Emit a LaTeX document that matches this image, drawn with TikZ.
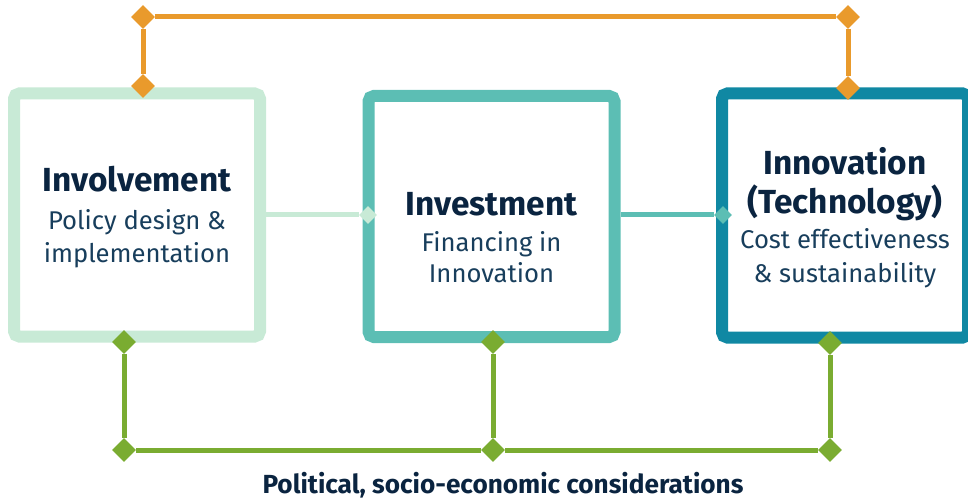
\documentclass[tikz,border=0pt]{standalone}
\usepackage{fontspec}
\setmainfont{Fira Sans}
\usetikzlibrary{positioning,shapes.geometric,calc}
\definecolor{mintcol}{RGB}{200,234,214}
\definecolor{tealcol}{RGB}{92,190,180}
\definecolor{petrolcol}{RGB}{16,136,163}
\definecolor{linkorange}{RGB}{233,154,44}
\definecolor{linkgreen}{RGB}{122,172,49}
\definecolor{headcol}{RGB}{10,36,64}
\definecolor{bodycol}{RGB}{24,62,92}
\tikzset{
  pillar/.style={
    rectangle, draw=#1, line width=12*0.02cm, rounded corners=3pt,
    fill=white, inner sep=0pt, minimum width=246*0.02cm
  },
  boxtext/.style={
    align=center, text=bodycol, font=\fontsize{14.6}{18.5}\selectfont
  },
  tipmark/.style={
    diamond, fill=#1, inner sep=0pt, minimum size=24*0.02cm
  },
  smalltip/.style={
    diamond, fill=#1, inner sep=0pt, minimum size=18*0.02cm
  },
  link/.style={line width=5*0.02cm, draw=#1},
}
\newcommand{\headline}[1]{{\fontsize{19}{22}\selectfont\bfseries\color{headcol}#1}}

\begin{document}
\begin{tikzpicture}[x=0.02cm, y=-0.02cm]
  \useasboundingbox (0,0) rectangle (968,500);

  % -- three pillars --
  \node[pillar=mintcol, minimum height=243*0.02cm] (inv) at (137,215) {};
  \node[pillar=tealcol, minimum height=241*0.02cm] (invest) at (491.5,216.5) {};
  \node[pillar=petrolcol, minimum height=244*0.02cm] (innov) at (845,215.5) {};

  % -- pillar texts --
  \node[boxtext] (invtxt) at ($(inv.center)+(0,2)$)
    {\headline{Involvement}\\[3pt] Policy design \&\\ implementation};
  \node[boxtext] (investtxt) at ($(invest.center)+(0,21)$)
    {\headline{Investment}\\[2pt] Financing in\\[-1pt] Innovation};
  \node[boxtext] (innovtxt) at ($(innov.center)+(0,2)$)
    {\headline{Innovation}\\[4pt] \headline{(Technology)}\\[1pt] Cost effectiveness\\[1pt] \& sustainability};

  % -- side links --
  \node[smalltip=mintcol] (d1) at (368,215) {};
  \node[smalltip=tealcol] (d2) at (723,215) {};
  \draw[link=mintcol] (inv.east |- d1) -- (d1);
  \draw[link=tealcol] (invest.east |- d2) -- (d2);

  % -- orange bracket on top --
  \node[tipmark=linkorange] (o1) at (143,17) {};
  \node[tipmark=linkorange] (o2) at (848,17) {};
  \node[tipmark=linkorange] (o3) at (143,86) {};
  \node[tipmark=linkorange] (o4) at (848,88) {};
  \draw[link=linkorange] (o3) -- (o1) -- (o2) -- (o4);

  % -- green bracket below --
  \node[tipmark=linkgreen] (g1) at (124,342) {};
  \node[tipmark=linkgreen] (g2) at (493,342) {};
  \node[tipmark=linkgreen] (g3) at (830,343) {};
  \node[tipmark=linkgreen] (g4) at (124,450) {};
  \node[tipmark=linkgreen] (g5) at (493,450) {};
  \node[tipmark=linkgreen] (g6) at (830,450) {};
  \draw[link=linkgreen] (g1) -- (g4) -- (g5) -- (g6) -- (g3);
  \draw[link=linkgreen] (g2) -- (g5);

  % -- caption --
  \node[font=\fontsize{14.9}{17}\selectfont\bfseries, text=headcol] (cap) at (503,485)
    {Political, socio-economic considerations};
\end{tikzpicture}
\end{document}
